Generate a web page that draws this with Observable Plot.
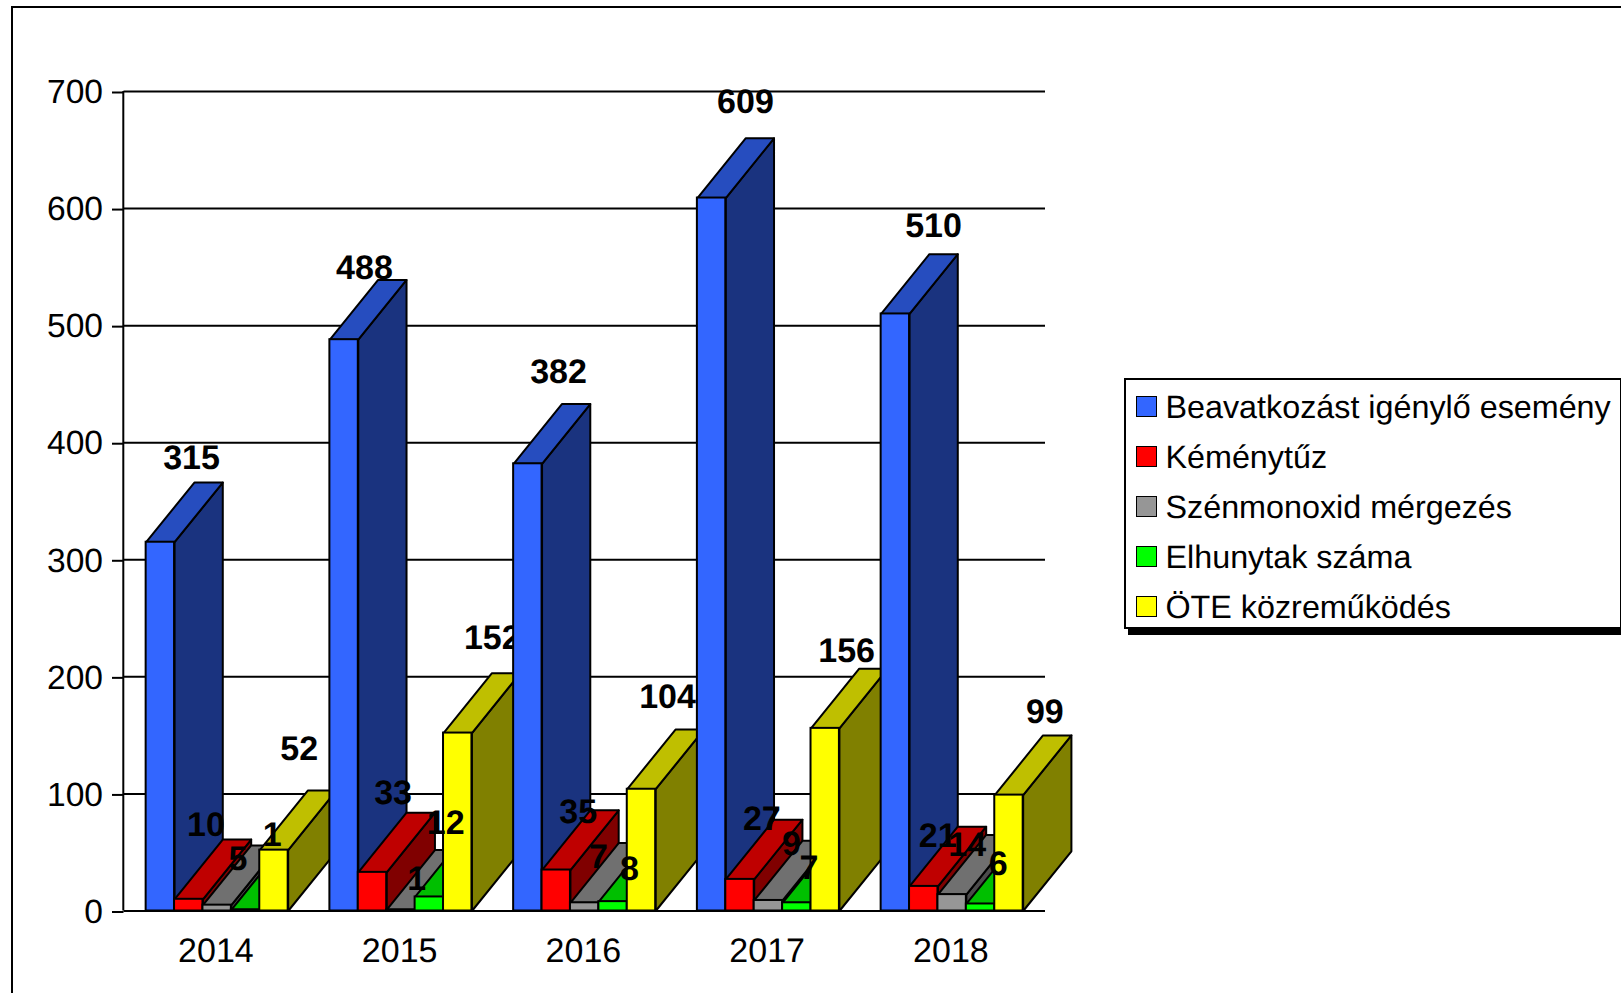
<!DOCTYPE html>
<html lang="hu">
<head>
<meta charset="utf-8">
<title>Beavatkozást igénylő események</title>
<script src="https://cdn.jsdelivr.net/npm/d3@7"></script>
<script src="https://cdn.jsdelivr.net/npm/@observablehq/plot@0.6"></script>
<style>
html,body{margin:0;padding:0;background:#fff;overflow:hidden}
#stage{position:relative;width:1621px;height:993px;overflow:hidden;font-family:"Liberation Sans",Arial,sans-serif;color:#000;text-rendering:geometricPrecision}
#frame{position:absolute;left:11px;top:6px;width:1700px;height:1100px;border:2.5px solid #000;box-sizing:border-box}
#chart{position:absolute;left:0;top:0}
#legend{position:absolute;left:1123.5px;top:378px;width:498px;height:251px;box-sizing:border-box;border:2px solid #000;background:#fff;box-shadow:4px 6px 0 #000}
.item{position:absolute;left:10px;font-size:32.3px;line-height:36px;white-space:nowrap;height:36px}
.sw{position:absolute;left:0;top:7.5px;width:21px;height:21px;box-sizing:border-box;border:1.5px solid #000}
.lb{position:absolute;left:30px;top:1px}
</style>
</head>
<body>
<div id="stage"><div id="frame"></div><div id="chart"></div><div id="legend"></div></div>
<script>
const years = ["2014","2015","2016","2017","2018"];
const seriesNames = ["Beavatkozást igénylő esemény","Kéménytűz","Szénmonoxid mérgezés","Elhunytak száma","ÖTE közreműködés"];
const beavatkozas = [315,488,382,609,510];
const kemenytuz = [10,33,35,27,21];
const szenmonoxid = [5,1,7,9,14];
const elhunytak = [1,12,8,7,6];
const ote = [52,152,104,156,99];
const yTicks = [0,100,200,300,400,500,600,700];

const frontColors = ["#3366ff","#ff0000","#969696","#00ff00","#ffff00"];
const topColors   = ["#264dbf","#bf0000","#707070","#00bf00","#bfbf00"];
const sideColors  = ["#1a337f","#800000","#4b4b4b","#008000","#808000"];

// Hand placement of each value label relative to its bar's front top centre, in pixels.
const labelDx = [[30.8,20,30.3,33.5,37.8],[16.9,20.2,21.6,21.5,13.6],[20.3,15.5,13.5,22.8,14.7],[26.3,16,16.1,11.7,17.3],[24.9,34.2,25.7,21,35.5]];
const labelDy = [[-84.2,-71.7,-91.8,-96,-87.4],[-74.6,-78.9,-57.8,-60,-50.4],[-46.2,-30.9,-45.9,-56.6,-49.1],[-74.3,-74.3,-32.7,-34.6,-39.5],[-100.9,-95.2,-91.7,-77.2,-83.2]];

const values = [beavatkozas,kemenytuz,szenmonoxid,elhunytak,ote];
const xMax = 5.015, groupInset = 0.1205, barW = 0.1546, depthX = 0.2625, depthY = 51;

function barMarks(g, s){
  const v = values[s][g], x0 = g + groupInset + s*barW, x1 = x0 + barW;
  const common = {x:"x", y:"y", curve:"linear-closed", stroke:"#000", strokeWidth:2, strokeLinejoin:"round"};
  const side = [[x1,0],[x1+depthX,depthY],[x1+depthX,v+depthY],[x1,v]].map(([x,y])=>({x,y}));
  const top  = [[x0,v],[x1,v],[x1+depthX,v+depthY],[x0+depthX,v+depthY]].map(([x,y])=>({x,y}));
  return [
    Plot.line(side,{...common,fill:sideColors[s]}),
    Plot.line(top,{...common,fill:topColors[s]}),
    Plot.rect([{x1:x0,x2:x1,y1:0,y2:v}],{x1:"x1",x2:"x2",y1:"y1",y2:"y2",fill:frontColors[s],stroke:"#000",strokeWidth:2})
  ];
}
function labelMarks(g){
  return values.map((vals,s)=>Plot.text([{x:g+groupInset+0.002+(s+0.5)*barW,y:vals[g],t:String(vals[g])}],{
    x:"x",y:"y",text:"t",dx:labelDx[s][g],dy:labelDy[s][g],fontSize:34,fontWeight:"bold",fill:"#000",textAnchor:"middle",lineAnchor:"middle"
  }));
}

const chart = Plot.plot({
  width:1621,height:993,
  marginLeft:123.5,marginRight:576,marginTop:91,marginBottom:82.5,
  style:{background:"transparent",fontFamily:"'Liberation Sans',Arial,sans-serif",overflow:"visible",textRendering:"geometricPrecision"},
  x:{domain:[0,xMax],axis:null},
  y:{domain:[0,700],axis:null},
  marks:[
    Plot.ruleY(yTicks,{x1:0,x2:xMax,stroke:"#000",strokeWidth:2}),
    Plot.ruleX([0],{y1:0,y2:700,stroke:"#000",strokeWidth:2,dx:-0.7}),
    Plot.axisY({ticks:yTicks,tickSize:11.5,tickPadding:9.5,fontSize:33.6,label:null,tickFormat:d=>String(d),stroke:"#000",strokeWidth:2,fill:"#000",strokeOpacity:1,dy:1}),
    Plot.axisX({ticks:years.map((_,i)=>i+0.5),tickSize:0,tickPadding:26.7,fontSize:34,label:null,tickFormat:d=>years[Math.floor(d)],fill:"#000"}),
    ...years.flatMap((_,g)=>[...values.flatMap((_,s)=>barMarks(g,s)),...labelMarks(g)])
  ]
});
document.getElementById("chart").appendChild(chart);

const legend = document.getElementById("legend");
seriesNames.forEach((name,i)=>{
  const it=document.createElement("div");
  it.className="item";
  it.style.top=(8+i*50)+"px";
  const sw=document.createElement("span");sw.className="sw";sw.style.background=frontColors[i];
  const lb=document.createElement("span");lb.className="lb";lb.textContent=name;
  it.append(sw,lb);legend.append(it);
});
</script>
</body>
</html>
